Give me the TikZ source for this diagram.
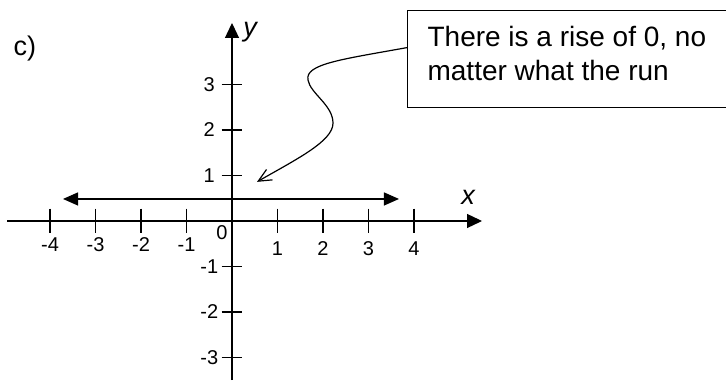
\documentclass[tikz,border=0pt]{standalone}
\usepackage{fontspec}
\setmainfont{Liberation Sans}
\usetikzlibrary{positioning,arrows.meta}

\begin{document}
\begin{tikzpicture}[
                x=45.5pt, y=45.5pt,
                axis/.style={line width=1.2pt, -{Triangle[length=15pt,width=14pt]}},
                both/.style={line width=1.2pt, {Triangle[length=15pt,width=13pt]}-{Triangle[length=15pt,width=13pt]}},
                tick/.style={line width=1.2pt},
                num/.style={font=\fontsize{20pt}{24pt}\selectfont, inner sep=0pt},
                lab/.style={font=\fontsize{27pt}{32pt}\selectfont\itshape, inner sep=0pt},
                note/.style={
                    draw,
                    line width=1.2pt,
                    anchor=north west,
                    align=left,
                    minimum width=318pt,
                    inner xsep=20pt,
                    inner ysep=16pt,
                    text height=54pt,
                    text depth=11pt,
                    font=\fontsize{28pt}{34pt}\selectfont
                },
                arrow/.style={line width=1.2pt, -{Straight Barb[length=13pt,width=12pt]}}
            ]
                \useasboundingbox (-5.099,-3.516) rectangle (10.857,4.857);

                \coordinate (xl) at (-4.945,0);
                \coordinate (xr) at (5.495,0);
                \coordinate (yb) at (0,-3.495);
                \coordinate (yt) at (0,4.352);
                \draw[axis] (xl) -- (xr);
                \draw[axis] (yb) -- (yt);

                \foreach \i in {-4,...,-1,1,2,3,4}
                    \draw[tick] (\i,0.27) -- (\i,-0.27);
                \foreach \i in {-3,...,-1,1,2,3}
                    \draw[tick] (-0.23,\i) -- (0.23,\i);

                \foreach \i in {-4,...,-1}
                    \node[num] (xn\i) at (\i,-0.52) {\i};
                \foreach \i in {1,2,3,4}
                    \node[num] (xn\i) at (\i,-0.6) {\i};
                \foreach \i in {-3,...,-1,1,2,3}
                    \node[num] (yn\i) at (-0.5,\i) {\i};
                \node[num] (zero) at (-0.22,-0.26) {0};

                \node[lab] (xlab) at (5.187,0.527) {x};
                \node[lab] (ylab) at (0.396,4.154) {y};
                \node[lab, font=\fontsize{27pt}{32pt}\selectfont] (part) at (-4.55,3.80) {c)};

                \coordinate (ll) at (-3.714,0.484);
                \coordinate (lr) at (3.67,0.484);
                \draw[both] (ll) -- (lr);

                \node[note] (note) at (3.846,4.637) {There is a rise of 0, no \\ matter what the run};

                \coordinate (hit) at (0.55,0.86);
                \draw[arrow] ([yshift=11.5pt]note.west) .. controls (2.4,3.55) and (1.6,3.45) .. (1.67,3.10)
                    .. controls (1.72,2.8) and (2.22,2.55) .. (2.22,2.15)
                    .. controls (2.22,1.75) and (1.4,1.35) .. (hit);
            \end{tikzpicture}
\end{document}
